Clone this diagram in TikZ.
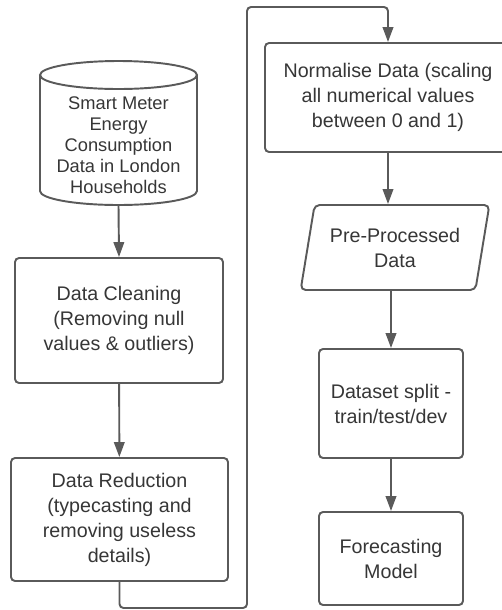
\documentclass[tikz,border=0pt]{standalone}
\usepackage{fontspec}
\setmainfont{Liberation Sans}
\usetikzlibrary{arrows.meta,shapes.geometric}

\definecolor{linie}{HTML}{5A5A5A}
\definecolor{schrift}{HTML}{363636}

\tikzset{
	kasten/.style={draw=linie, line width=1.1pt, rounded corners=0.08cm,
		align=center, text=schrift, inner sep=0pt,
		font=\fontsize{11.2}{14.2}\selectfont},
	raute/.style={kasten, trapezium, trapezium left angle=74,
		trapezium right angle=106, trapezium stretches=true,
		rounded corners=0.1cm},
	zylinder/.style={draw=linie, line width=1.1pt},
	pfeil/.style={draw=linie, line width=1.1pt,
		-{Triangle[length=8.5pt,width=6pt]}}
}

\begin{document}
\begin{tikzpicture}[x=0.02cm,y=-0.02cm]
			\useasboundingbox (0,0) rectangle (502,610);

			% Datenquelle (Zylinder)
			\draw[zylinder] (118.5,75) ellipse [x radius=1.57cm, y radius=0.28cm];
			\draw[zylinder] (40,75) -- (40,191)
			arc[start angle=180, end angle=360, x radius=1.57cm, y radius=0.28cm]
			-- (197,75);
			\node[align=center, text=schrift, inner sep=0pt, minimum width=3.14cm,
			minimum height=2.4cm, font=\fontsize{10.4}{12}\selectfont]
			(quelle) at (118.5,145) {Smart Meter\\Energy\\Consumption\\Data in London\\Households};

			% linke Spalte
			\node[kasten, minimum width=4.16cm, minimum height=2.5cm] (bereinigung)
			at (119,320.5) {Data Cleaning\\(Removing null\\values \& outliers)};
			\node[kasten, minimum width=4.34cm, minimum height=2.46cm] (reduktion)
			at (119.5,519.5) {Data Reduction\\(typecasting and\\removing useless\\details)};

			% rechte Spalte
			\node[kasten, minimum width=4.92cm, minimum height=2.18cm] (normierung)
			at (388,97.5) {Normalise Data (scaling\\all numerical values\\between 0 and 1)};
			\node[raute, minimum width=3.78cm, minimum height=1.7cm] (vorverarbeitet)
			at (395,247.5) {Pre-Processed\\Data};
			\node[kasten, minimum width=2.88cm, minimum height=2.18cm] (aufteilung)
			at (391,403.5) {Dataset split -\\train/test/dev};
			\node[kasten, minimum width=2.88cm, minimum height=1.86cm] (modell)
			at (391,558.5) {Forecasting\\Model};

			% Verbindungen
			\draw[pfeil] (quelle.south) -- (bereinigung.north);
			\draw[pfeil] (bereinigung) -- (reduktion);
			\draw[pfeil] (normierung.south) -- (vorverarbeitet.north -| normierung.south);
			\draw[pfeil] (vorverarbeitet.south -| aufteilung.north) -- (aufteilung.north);
			\draw[pfeil] (aufteilung) -- (modell);

			% Ruecksprung nach rechts oben
			\coordinate (unten) at (247,608);
			\coordinate (oben) at (247,7);
			\draw[pfeil, rounded corners=0.08cm] (reduktion.south) |- (unten)
			-- (oben) -| (normierung.north);
		\end{tikzpicture}
\end{document}
